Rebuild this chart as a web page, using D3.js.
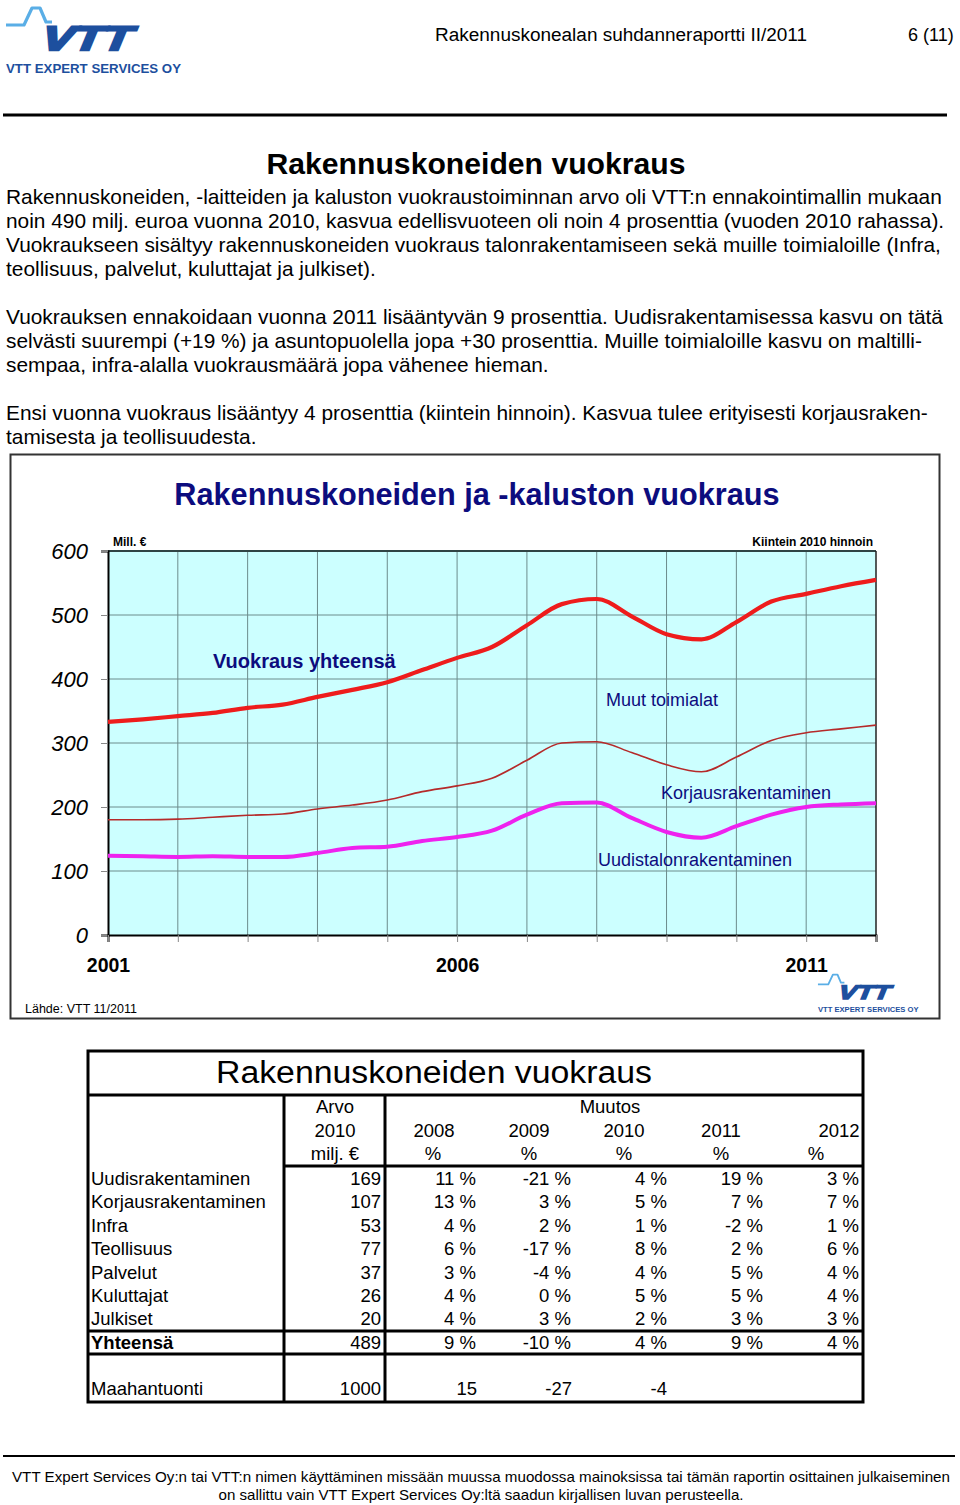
<!DOCTYPE html>
<html>
<head>
<meta charset="utf-8">
<script src="https://cdn.jsdelivr.net/npm/d3@7"></script>
<style>
  body { margin: 0; background: #fff; }
  svg { display: block; font-family: Arial, "Liberation Sans", sans-serif; }
</style>
</head>
<body>
<div id="page"></div>
<script>
// ---- chart data (half-year readings, million €) ----
const periods = [2001, 2001.5, 2002, 2002.5, 2003, 2003.5, 2004, 2004.5, 2005, 2005.5, 2006, 2006.5,
  2007, 2007.5, 2008, 2008.5, 2009, 2009.5, 2010, 2010.5, 2011, 2011.5, 2012];
const totalRental = [333, 337, 342, 347, 355, 360, 372, 383, 395, 414, 433, 450,
  484, 517, 525, 498, 470, 462, 489, 521, 533, 545, 555];
const newPlusRepair = [180, 180, 181, 184, 187, 189, 197, 203, 211, 224, 233, 245,
  273, 300, 302, 285, 266, 255, 278, 304, 316, 322, 328];
const newBuilding = [124, 123, 122, 123, 122, 122, 128, 136, 138, 147, 153, 163,
  188, 206, 207, 183, 161, 152, 170, 188, 200, 204, 206];
const yTicks = [0, 100, 200, 300, 400, 500, 600];
const xYears = [2001, 2002, 2003, 2004, 2005, 2006, 2007, 2008, 2009, 2010, 2011, 2012];
const xLabelYears = [2001, 2006, 2011];

// ---- table data ----
const rowNames = ["Uudisrakentaminen", "Korjausrakentaminen", "Infra", "Teollisuus", "Palvelut",
  "Kuluttajat", "Julkiset", "Yhteensä"];
const value2010 = [169, 107, 53, 77, 37, 26, 20, 489];
const change2008 = [11, 13, 4, 6, 3, 4, 4, 9];
const change2009 = [-21, 3, 2, -17, -4, 0, 3, -10];
const change2010 = [4, 5, 1, 8, 4, 5, 2, 4];
const change2011 = [19, 7, -2, 2, 5, 5, 3, 9];
const change2012 = [3, 7, 1, 6, 4, 4, 3, 4];
const importRow = ["Maahantuonti", "1000", "15", "-27", "-4"];
const changeYears = ["2008", "2009", "2010", "2011", "2012"];

const bodyParas = [
  ["Rakennuskoneiden, -laitteiden ja kaluston vuokraustoiminnan arvo oli VTT:n ennakointimallin mukaan",
   "noin 490 milj. euroa vuonna 2010, kasvua edellisvuoteen oli noin 4 prosenttia (vuoden 2010 rahassa).",
   "Vuokraukseen sisältyy rakennuskoneiden vuokraus talonrakentamiseen sekä muille toimialoille (Infra,",
   "teollisuus, palvelut, kuluttajat ja julkiset)."],
  ["Vuokrauksen ennakoidaan vuonna 2011 lisääntyvän 9 prosenttia. Uudisrakentamisessa kasvu on tätä",
   "selvästi suurempi (+19 %) ja asuntopuolella jopa +30 prosenttia. Muille toimialoille kasvu on maltilli-",
   "sempaa, infra-alalla vuokrausmäärä jopa vähenee hieman."],
  ["Ensi vuonna vuokraus lisääntyy 4 prosenttia (kiintein hinnoin). Kasvua tulee erityisesti korjausraken-",
   "tamisesta ja teollisuudesta."]
];

const W = 960, H = 1505;
const svg = d3.select('#page').append('svg').attr('width', W).attr('height', H);

// VTT logo, drawn at the page origin and scaled for the chart corner
function drawLogo(parent, tx, ty, s) {
  const g = parent.append('g').attr('transform', `translate(${tx},${ty}) scale(${s})`);
  g.append('polyline')
    .attr('points', '6,25 24,25 32,8 40,8 46,22 52,22')
    .attr('fill', 'none').attr('stroke', '#5aaee6').attr('stroke-width', 3.2)
    .attr('stroke-linejoin', 'round');
  // heavy slanted letters
  g.append('text')
    .attr('x', 42).attr('y', 50)
    .attr('font-size', 34).attr('font-weight', 900).attr('font-style', 'italic')
    .attr('textLength', 90).attr('lengthAdjust', 'spacingAndGlyphs')
    .attr('fill', '#1d4f9e').attr('stroke', '#1d4f9e').attr('stroke-width', 2.4)
    .attr('transform', 'skewX(-8) translate(6,0)')
    .text('VTT');
  g.append('text')
    .attr('x', 6).attr('y', 73)
    .attr('font-size', 13).attr('font-weight', 'bold')
    .attr('textLength', 175).attr('lengthAdjust', 'spacingAndGlyphs')
    .attr('fill', '#1d4f9e').text('VTT EXPERT SERVICES OY');
}

// ---- header ----
drawLogo(svg, 0, 0, 1);
svg.append('text').attr('x', 435).attr('y', 41).attr('font-size', 18)
  .attr('textLength', 372).attr('lengthAdjust', 'spacingAndGlyphs')
  .text('Rakennuskonealan suhdanneraportti II/2011');
svg.append('text').attr('x', 908).attr('y', 41).attr('font-size', 18).text('6 (11)');
svg.append('line').attr('x1', 3).attr('x2', 947).attr('y1', 115).attr('y2', 115)
  .attr('stroke', '#000').attr('stroke-width', 3);

// ---- section title and body ----
svg.append('text').attr('x', 476).attr('y', 174).attr('text-anchor', 'middle')
  .attr('font-size', 30).attr('font-weight', 'bold')
  .attr('textLength', 419).attr('lengthAdjust', 'spacingAndGlyphs')
  .text('Rakennuskoneiden vuokraus');

const probe = svg.append('text').attr('font-size', 18).text(bodyParas[0][0]);
const bodySize = 18 * 936 / probe.node().getComputedTextLength();
probe.remove();

let by = 204;
bodyParas.forEach(lines => {
  lines.forEach(line => {
    svg.append('text').attr('x', 6).attr('y', by).attr('font-size', bodySize).text(line);
    by += 24;
  });
  by += 24;
});

// ---- chart ----
const chart = svg.append('g');
chart.append('rect').attr('x', 10.5).attr('y', 454.5).attr('width', 929).attr('height', 564)
  .attr('fill', '#fff').attr('stroke', '#333').attr('stroke-width', 2);

chart.append('text').attr('x', 477).attr('y', 505).attr('text-anchor', 'middle')
  .attr('font-size', 30.7).attr('font-weight', 'bold').attr('fill', '#0c0c7e')
  .text('Rakennuskoneiden ja -kaluston vuokraus');

const x = d3.scaleLinear().domain([2001, 2012]).range([108, 876]);
const y = d3.scaleLinear().domain([0, 600]).range([935, 551]);

chart.append('rect').attr('x', x(2001)).attr('y', y(600))
  .attr('width', x(2012) - x(2001)).attr('height', y(0) - y(600))
  .attr('fill', '#ccffff');

// grid
chart.append('g').selectAll('line').data(yTicks.filter(d => d > 0 && d < 600)).join('line')
  .attr('x1', x(2001)).attr('x2', x(2012)).attr('y1', d => y(d)).attr('y2', d => y(d))
  .attr('stroke', '#6c8c8c').attr('stroke-width', 1);
chart.append('g').selectAll('line').data(xYears.filter(d => d > 2001 && d < 2012)).join('line')
  .attr('x1', d => x(d)).attr('x2', d => x(d)).attr('y1', y(600)).attr('y2', y(0))
  .attr('stroke', '#6c8c8c').attr('stroke-width', 1);

// frame of the plot area
chart.append('line').attr('x1', x(2001)).attr('x2', x(2012)).attr('y1', y(600)).attr('y2', y(600))
  .attr('stroke', '#2f4444').attr('stroke-width', 2);
chart.append('line').attr('x1', x(2012)).attr('x2', x(2012)).attr('y1', y(600)).attr('y2', y(0))
  .attr('stroke', '#222').attr('stroke-width', 1.5);

// axes
const yAxis = chart.append('g').attr('transform', `translate(${x(2001)},0)`)
  .call(d3.axisLeft(y).tickValues(yTicks).tickSize(7).tickPadding(13));
yAxis.select('.domain').attr('stroke', '#000').attr('stroke-width', 2);
yAxis.selectAll('.tick line').attr('stroke', '#888');
yAxis.selectAll('.tick text').attr('font-size', 22).attr('font-style', 'italic')
  .attr('font-family', 'Arial, "Liberation Sans", sans-serif').attr('fill', '#000');

const xAxis = chart.append('g').attr('transform', `translate(0,${y(0)})`)
  .call(d3.axisBottom(x).tickValues(xYears).tickSize(7).tickPadding(16)
    .tickFormat(d => xLabelYears.includes(d) ? String(d) : ''));
xAxis.select('.domain').attr('stroke', '#000').attr('stroke-width', 2);
xAxis.selectAll('.tick line').attr('stroke', '#888');
xAxis.selectAll('.tick text').attr('font-size', 19.5).attr('font-weight', 'bold')
  .attr('font-family', 'Arial, "Liberation Sans", sans-serif').attr('fill', '#000');

chart.append('text').attr('x', 113).attr('y', 546).attr('font-size', 12).attr('font-weight', 'bold')
  .text('Mill. €');
chart.append('text').attr('x', 873).attr('y', 546).attr('text-anchor', 'end')
  .attr('font-size', 12).attr('font-weight', 'bold').text('Kiintein 2010 hinnoin');

// series lines
const series = [
  { values: newPlusRepair, color: '#b52a2a', width: 1.6 },
  { values: newBuilding, color: '#ee22ee', width: 4 },
  { values: totalRental, color: '#ee1c1c', width: 4.2 }
];
const line = d3.line().curve(d3.curveMonotoneX).x(d => x(d[0])).y(d => y(d[1]));
chart.append('g').selectAll('path').data(series).join('path')
  .attr('d', s => line(periods.map((p, i) => [p, s.values[i]])))
  .attr('fill', 'none').attr('stroke', s => s.color).attr('stroke-width', s => s.width)
  .attr('stroke-linejoin', 'round');

// series labels
const labelColor = '#0c0c7e';
chart.append('text').attr('x', 213).attr('y', 668).attr('font-size', 20).attr('font-weight', 'bold')
  .attr('fill', labelColor).text('Vuokraus yhteensä');
chart.append('text').attr('x', 606).attr('y', 706).attr('font-size', 18)
  .attr('fill', labelColor).text('Muut toimialat');
chart.append('text').attr('x', 661).attr('y', 799).attr('font-size', 18)
  .attr('fill', labelColor).text('Korjausrakentaminen');
chart.append('text').attr('x', 598).attr('y', 866).attr('font-size', 18)
  .attr('fill', labelColor).text('Uudistalonrakentaminen');

chart.append('text').attr('x', 25).attr('y', 1013).attr('font-size', 12.5).text('Lähde: VTT 11/2011');
drawLogo(chart, 814.5, 970, 0.575);

// ---- table ----
const tbl = svg.append('g');
const tf = 18.5;
tbl.append('rect').attr('x', 88).attr('y', 1051).attr('width', 775).attr('height', 351)
  .attr('fill', 'none').attr('stroke', '#000').attr('stroke-width', 3);
[[88, 863, 1095], [284, 863, 1166], [88, 863, 1331], [88, 863, 1354]].forEach(([x1, x2, yy]) => {
  tbl.append('line').attr('x1', x1).attr('x2', x2).attr('y1', yy).attr('y2', yy)
    .attr('stroke', '#000').attr('stroke-width', 3);
});
[284, 385].forEach(xx => {
  tbl.append('line').attr('x1', xx).attr('x2', xx).attr('y1', 1095).attr('y2', 1402)
    .attr('stroke', '#000').attr('stroke-width', 3);
});

tbl.append('text').attr('x', 434).attr('y', 1083).attr('text-anchor', 'middle')
  .attr('font-size', 31).attr('textLength', 436).attr('lengthAdjust', 'spacingAndGlyphs')
  .text('Rakennuskoneiden vuokraus');

const hdr = (t, xx, yy, anchor) => tbl.append('text').attr('x', xx).attr('y', yy)
  .attr('text-anchor', anchor || 'middle').attr('font-size', tf).text(t);
hdr('Arvo', 335, 1113);
hdr('2010', 335, 1137);
hdr('milj. €', 335, 1160);
hdr('Muutos', 610, 1113);
const yearCenters = [434, 529, 624, 721, 839];
const pctCenters = [433, 529, 624, 721, 816];
changeYears.forEach((yr, i) => {
  hdr(yr, yearCenters[i], 1137);
  hdr('%', pctCenters[i], 1160);
});

const changeCols = [change2008, change2009, change2010, change2011, change2012];
const colRight = [476, 571, 667, 763, 859];
rowNames.forEach((name, r) => {
  const yy = 1185 + r * 23.4;
  const bold = r === rowNames.length - 1 ? 'bold' : 'normal';
  tbl.append('text').attr('x', 91).attr('y', yy).attr('font-size', tf).attr('font-weight', bold).text(name);
  tbl.append('text').attr('x', 381).attr('y', yy).attr('text-anchor', 'end').attr('font-size', tf)
    .text(value2010[r]);
  changeCols.forEach((col, c) => {
    tbl.append('text').attr('x', colRight[c]).attr('y', yy).attr('text-anchor', 'end')
      .attr('font-size', tf).text(col[r] + ' %');
  });
});
tbl.append('text').attr('x', 91).attr('y', 1395).attr('font-size', tf).text(importRow[0]);
[381, 477, 572, 667].forEach((xx, i) => {
  tbl.append('text').attr('x', xx).attr('y', 1395).attr('text-anchor', 'end')
    .attr('font-size', tf).text(importRow[i + 1]);
});

// ---- footer ----
svg.append('line').attr('x1', 3).attr('x2', 955).attr('y1', 1456).attr('y2', 1456)
  .attr('stroke', '#000').attr('stroke-width', 2);
svg.append('text').attr('x', 481).attr('y', 1482).attr('text-anchor', 'middle').attr('font-size', 15)
  .attr('textLength', 938).attr('lengthAdjust', 'spacingAndGlyphs')
  .text('VTT Expert Services Oy:n tai VTT:n nimen käyttäminen missään muussa muodossa mainoksissa tai tämän raportin osittainen julkaiseminen');
svg.append('text').attr('x', 481).attr('y', 1500).attr('text-anchor', 'middle').attr('font-size', 15)
  .attr('textLength', 525).attr('lengthAdjust', 'spacingAndGlyphs')
  .text('on sallittu vain VTT Expert Services Oy:ltä saadun kirjallisen luvan perusteella.');
</script>
</body>
</html>
